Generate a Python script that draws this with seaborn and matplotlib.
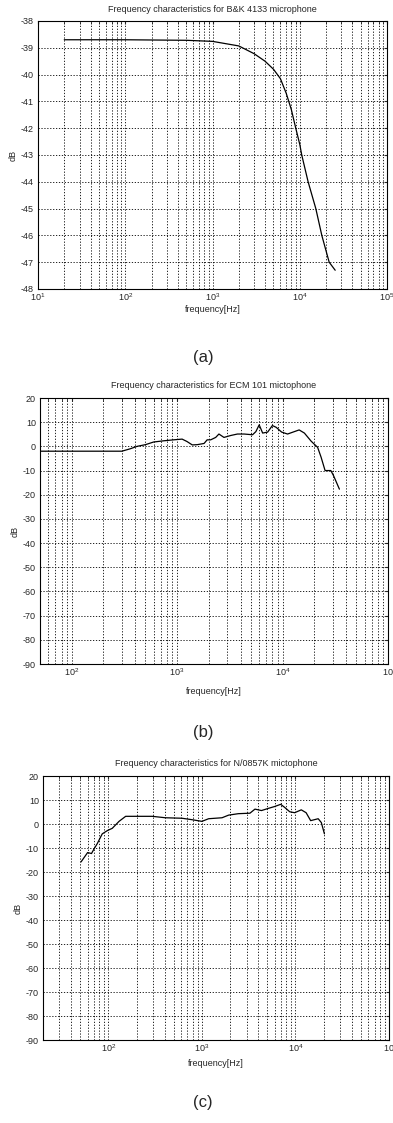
import numpy as np
import pandas as pd
import matplotlib
matplotlib.use("Agg")
import matplotlib.pyplot as plt
import seaborn as sns
from matplotlib.ticker import LogLocator, FixedLocator, NullFormatter

# ---- data ----
titles = ["Frequency characteristics for B&K 4133 microphone",
          "Frequency characteristics for ECM 101 mictophone",
          "Frequency characteristics for N/0857K mictophone"]
panel_labels = ["(a)", "(b)", "(c)"]

freq_a = [20, 100, 500, 1000, 2000, 3000, 4000, 5000, 6000, 7000, 8000, 9000,
          10000, 10540, 12470, 15280, 17900, 21740, 25480]
db_a = [-38.7, -38.7, -38.72, -38.76, -38.93, -39.22, -39.5, -39.8, -40.15, -40.7,
        -41.3, -42.0, -42.6, -43.0, -44.0, -45.0, -46.0, -47.0, -47.3]

freq_b = [50, 299, 359, 416, 500, 598, 746, 925, 1115, 1240, 1390, 1550, 1800,
          1925, 2080, 2320, 2490, 2780, 3225, 3730, 4320, 5190, 5580, 6000, 6470,
          7220, 8000, 8680, 9800, 11150, 14360, 16100, 18700, 21500, 23200, 25300,
          28700, 30500, 34600]
db_b = [-2.0, -2.0, -1.0, 0.0, 0.7, 1.8, 2.3, 2.7, 3.0, 2.0, 0.6, 0.7, 1.2,
        2.7, 2.7, 3.7, 5.1, 3.7, 4.5, 5.1, 5.1, 4.8, 6.1, 8.9, 5.5,
        5.9, 8.6, 7.9, 5.9, 5.1, 6.8, 5.5, 2.1, -0.4, -4.5, -10.0,
        -10.0, -12.2, -17.7]

freq_c = [51, 60, 66, 70, 76, 86, 98, 110, 130, 153, 294, 407, 612, 781, 1000,
          1180, 1640, 1930, 2450, 3260, 3690, 4330, 5120, 6010, 6950, 7680, 8680,
          9800, 11540, 13000, 14540, 17500, 18900, 20400]
db_c = [-15.8, -11.9, -12.3, -10.5, -8.2, -4.1, -2.7, -1.8, 1.1, 3.2, 3.2, 2.6,
        2.4, 1.8, 1.1, 2.2, 2.6, 3.7, 4.3, 4.5, 6.2, 5.6, 6.5, 7.3, 8.2, 6.9, 5.1,
        4.7, 5.9, 4.7, 1.4, 2.2, 0.6, -4.1]

xlims = [(10, 1e5), (50, 1e5), (20, 1e5)]
yticks_a = list(range(-48, -37))
yticks_bc = list(range(-90, 21, 10))
xtick_vals = [10, 100, 1000, 10000, 100000]
xtick_labels_a = [r"$10^{1}$", r"$10^{2}$", r"$10^{3}$", r"$10^{4}$", r"$10^{5}$"]
xtick_labels_bc = [r"$10^{1}$", r"$10^{2}$", r"$10^{3}$", r"$10^{4}$", r"$10^{\ }$"]

# ---- style ----
sns.set_style("white")
plt.rcParams['font.family'] = ['Liberation Sans', 'DejaVu Sans']
plt.rcParams['mathtext.fontset'] = 'custom'
plt.rcParams['mathtext.rm'] = 'Liberation Sans'

W, H = 393, 1123
fig = plt.figure(figsize=(W / 100, H / 100), dpi=100)

# pixel boxes: left, right, top, bottom
boxes = [(38, 387, 21, 289), (40, 388, 398, 664), (43, 389, 776, 1040)]
title_y = [10, 385, 763]
xlabel_y = [310, 692, 1063]
plabel_y = [358, 733, 1102]

datasets = [(freq_a, db_a, yticks_a), (freq_b, db_b, yticks_bc), (freq_c, db_c, yticks_bc)]

for i, ((f, d, yt), (l, r, t, b)) in enumerate(zip(datasets, boxes)):
    ax = fig.add_axes([l / W, 1 - b / H, (r - l) / W, (b - t) / H])
    df = pd.DataFrame({"freq": f, "dB": d})
    sns.lineplot(data=df, x="freq", y="dB", ax=ax, color="black", lw=0.9,
                 estimator=None, sort=False)
    ax.set_xscale("log")
    ax.set_xlim(*xlims[i])
    ax.set_ylim(yt[0], yt[-1])
    ax.set_yticks(yt)
    ax.set_yticklabels([str(v) for v in yt], fontsize=6.5)
    ax.xaxis.set_major_locator(FixedLocator(xtick_vals))
    ax.set_xticklabels(xtick_labels_a if i == 0 else xtick_labels_bc, fontsize=6.5)
    ax.xaxis.set_minor_locator(LogLocator(base=10, subs=np.arange(2, 10), numticks=20))
    ax.xaxis.set_minor_formatter(NullFormatter())
    ax.grid(True, which="major", axis="both", color="black", linestyle=(0, (1.5, 2)), lw=0.6)
    ax.grid(True, which="minor", axis="x", color="black", linestyle=(0, (1.5, 2)), lw=0.6)
    ax.tick_params(axis="both", which="both", direction="in", length=2,
                   top=True, right=True, labelsize=6.5)
    ax.tick_params(axis="x", pad=2)
    ax.tick_params(axis="y", pad=3)
    for s in ax.spines.values():
        s.set_color("black")
        s.set_linewidth(0.8)
    ax.set_xlabel("")
    ax.set_ylabel("dB", fontsize=6.5, labelpad=2)
    fig.text((l + r) / 2 / W, 1 - title_y[i] / H, titles[i], ha="center", va="center",
             fontsize=6.5)
    fig.text((l + r) / 2 / W, 1 - xlabel_y[i] / H, "frequency[Hz]", ha="center",
             va="center", fontsize=6.5)
    fig.text(203 / W, 1 - plabel_y[i] / H, panel_labels[i], ha="center", va="center",
             fontsize=12)

fig.savefig("out.png", dpi=100, facecolor="white")
